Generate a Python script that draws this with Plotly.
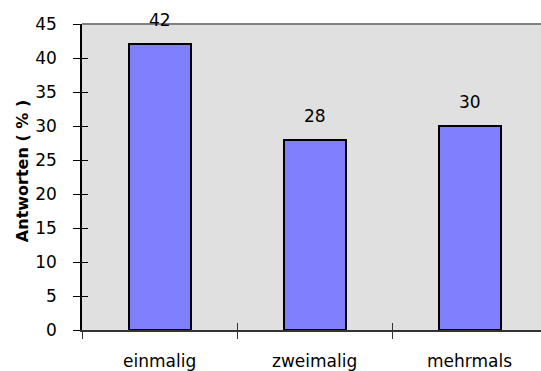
import plotly.graph_objects as go

categories = ["einmalig", "zweimalig", "mehrmals"]
values = [42, 28, 30]
y_ticks = [0, 5, 10, 15, 20, 25, 30, 35, 40, 45]
y_title = "Antworten ( % )"

FONT = "DejaVu Sans, Arial, sans-serif"
xs = list(range(len(categories)))

fig = go.Figure()
fig.add_trace(go.Bar(
    x=xs, y=values, width=0.4,
    marker=dict(color="#8080ff", line=dict(color="black", width=2)),
    hoverinfo="skip",
))

# value labels above each bar
for xi, v in zip(xs, values):
    fig.add_annotation(x=xi, y=v, xref="x", yref="y", text=str(v),
                       showarrow=False, yshift=24, yanchor="middle",
                       font=dict(family=FONT, size=17, color="black"))

# category labels beneath the axis
for xi, c in zip(xs, categories):
    fig.add_annotation(x=xi, y=0, xref="x", yref="y", text=c,
                       showarrow=False, yshift=-31, yanchor="middle",
                       font=dict(family=FONT, size=17, color="black"))

fig.add_annotation(x=-0.128, y=0.52, xref="paper", yref="paper",
                   text="<b>" + y_title + "</b>", textangle=-90,
                   showarrow=False, xanchor="center", yanchor="middle",
                   font=dict(family=FONT, size=16, color="black"))

# invisible trace to drive the inner tick axes
fig.add_trace(go.Scatter(x=[0], y=[0], xaxis="x2", yaxis="y2",
                         mode="markers", marker=dict(opacity=0),
                         hoverinfo="skip"))

xr = [-0.5, 2.461]
yr = [0, 45]
fig.update_layout(
    width=541, height=371,
    margin=dict(l=82, r=0, t=24, b=41),
    paper_bgcolor="white",
    plot_bgcolor="#e0e0e0",
    showlegend=False,
    bargap=0,
    xaxis=dict(range=xr, tickmode="array",
               tickvals=[-0.5, 0.5, 1.5, 2.5], showticklabels=False,
               ticks="outside", ticklen=7, tickcolor="#333", tickwidth=1,
               showgrid=False, zeroline=False, showline=True,
               linecolor="#333", linewidth=1.5, fixedrange=True),
    yaxis=dict(range=yr, tickmode="array", tickvals=y_ticks,
               ticks="outside", ticklen=7, tickcolor="black", tickwidth=1,
               ticklabelstandoff=13,
               tickfont=dict(family=FONT, size=17, color="black"),
               showgrid=False, zeroline=False, showline=True,
               linecolor="black", linewidth=1.5, fixedrange=True),
    xaxis2=dict(range=xr, overlaying="x", anchor="y2", side="bottom",
                tickmode="array", tickvals=[-0.5, 0.5, 1.5, 2.5],
                showticklabels=False, ticks="inside", ticklen=7,
                tickcolor="#333", showgrid=False, zeroline=False,
                showline=False, fixedrange=True),
    yaxis2=dict(range=yr, overlaying="y", anchor="x2", side="left",
                tickmode="array", tickvals=y_ticks, showticklabels=False,
                ticks="inside", ticklen=6, tickcolor="black",
                showgrid=False, zeroline=False, showline=False,
                fixedrange=True),
    shapes=[dict(type="line", xref="paper", yref="paper",
                 x0=0, x1=1, y0=1, y1=1,
                 line=dict(color="#808080", width=2))],
)

fig.write_html("out.html", config={"displayModeBar": False})
